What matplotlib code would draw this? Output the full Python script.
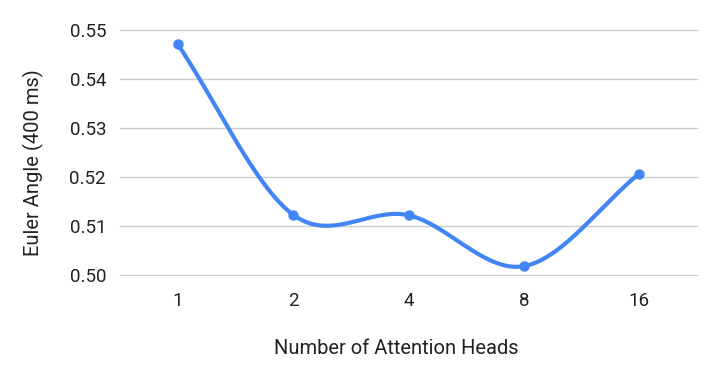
import numpy as np
import matplotlib
matplotlib.use("Agg")
import matplotlib.pyplot as plt

categories = ["1", "2", "4", "8", "16"]
values = [0.5471, 0.5123, 0.5122, 0.5018, 0.5207]
yticks = [0.50, 0.51, 0.52, 0.53, 0.54, 0.55]
ytick_labels = ["0.50", "0.51", "0.52", "0.53", "0.54", "0.55"]

plt.rcParams['font.family'] = ['Roboto', 'DejaVu Sans']

fig = plt.figure(figsize=(7.16, 3.78), dpi=100)
ax = fig.add_axes([120/716, 1-275/378, (697-120)/716, (275-30)/378])

x = np.arange(len(categories), dtype=float)
y = np.array(values)

# Catmull-Rom style smoothing through the data points
def smooth(xp, yp, n=60):
    px = np.concatenate([[xp[0]], xp, [xp[-1]]])
    py = np.concatenate([[yp[0]], yp, [yp[-1]]])
    xs, ys = [], []
    for i in range(1, len(px) - 2):
        p0, p1, p2, p3 = py[i-1], py[i], py[i+1], py[i+2]
        x0, x1, x2, x3 = px[i-1], px[i], px[i+1], px[i+2]
        m1 = (p2 - p0) / (x2 - x0) if x2 != x0 else 0
        m2 = (p3 - p1) / (x3 - x1) if x3 != x1 else 0
        t = np.linspace(0, 1, n)
        h = x2 - x1
        h00 = 2*t**3 - 3*t**2 + 1
        h10 = t**3 - 2*t**2 + t
        h01 = -2*t**3 + 3*t**2
        h11 = t**3 - t**2
        xs.append(x1 + t*h)
        ys.append(h00*p1 + h10*h*m1 + h01*p2 + h11*h*m2)
    return np.concatenate(xs), np.concatenate(ys)

sx, sy = smooth(x, y)
ax.plot(sx, sy, color="#4285F4", linewidth=3, solid_capstyle='round', zorder=3)
ax.plot(x, y, 'o', color="#4285F4", markersize=6.5, zorder=4, clip_on=False)

ax.set_xlim(-0.5, len(categories) - 0.5)
ax.set_ylim(0.50, 0.55)
ax.set_yticks(yticks)
ax.set_yticklabels(ytick_labels)
ax.set_xticks(x)
ax.set_xticklabels(categories)
for yt in yticks:
    ax.axhline(yt, color="#cccccc", linewidth=1, zorder=1, clip_on=False)
for s in ax.spines.values():
    s.set_visible(False)
ax.tick_params(axis='both', length=0, labelsize=13.5, colors="#222222")
ax.tick_params(axis='y', pad=10)
ax.tick_params(axis='x', pad=12)

fig.text(396.5/716, 1-348/378, "Number of Attention Heads", ha='center', va='center', fontsize=14.5, color="#222222")
fig.text(33/716, 1-163/378, "Euler Angle (400 ms)", ha='center', va='center', rotation=90, fontsize=14.5, color="#222222")

fig.savefig("out.png", dpi=100, facecolor="white")
